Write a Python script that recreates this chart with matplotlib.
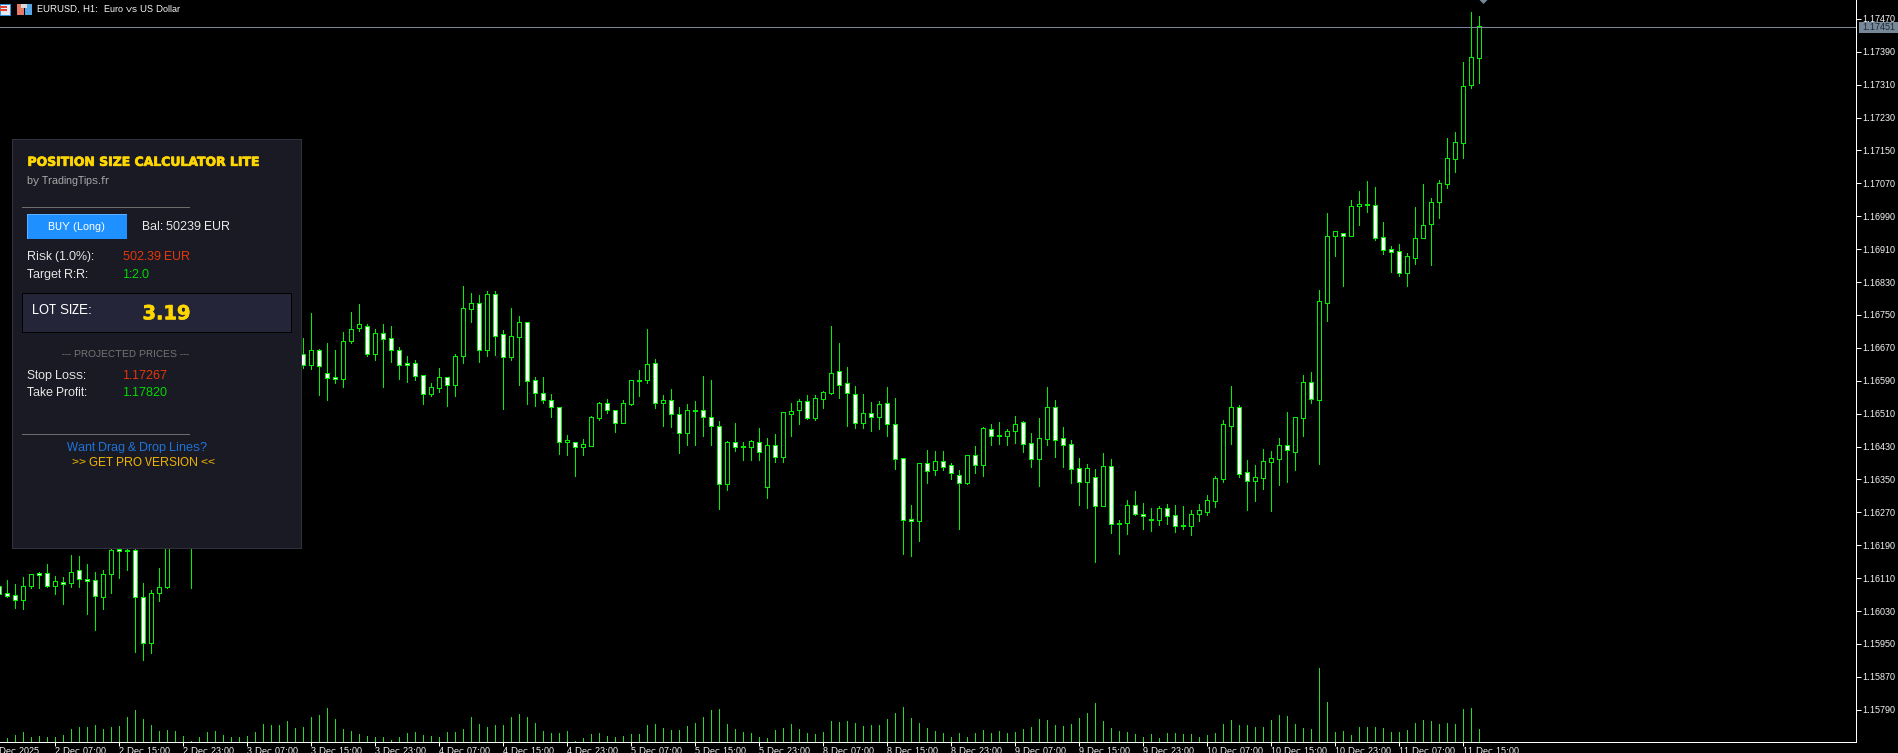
#!/usr/bin/env python3
"""EURUSD H1 terminal chart with the position size calculator panel on top."""

import matplotlib
matplotlib.use("Agg")
import matplotlib.pyplot as plt
import matplotlib.patheffects as pe
from matplotlib.patches import Polygon, Rectangle
import numpy as np

plt.rcParams["font.family"] = ["Liberation Sans", "DejaVu Sans"]
plt.rcParams["text.hinting"] = "no_autohint"
plt.rcParams["text.hinting_factor"] = 1

nan = float("nan")

# OHLC in points (1e-5), one bar per hour. nan = bar fully hidden behind the panel.
OPENS = [
    116092, 116073, 116068, 116058, 116092, 116122, 116122, 116092, 116100, 116097,
    116129, 116107, 116105, 116065, 116119, 116180, 116178, 116178, 116063, 115953,
    116073, 116088, nan, nan, 116300, nan, nan, nan, nan, nan,
    nan, nan, nan, nan, nan, nan, nan, nan, 116656, 116629,
    116664, 116610, 116598, 116595, 116687, 116719, 116722, 116656, 116705, 116693,
    116666, 116632, 116632, 116603, 116558, 116573, 116598, 116580, 116651, 116765,
    116778, 116666, 116802, 116703, 116648, 116697, 116734, 116591, 116561, 116544,
    116525, 116442, 116440, 116429, 116432, 116500, 116535, 116520, 116488, 116534,
    116593, 116592, 116632, 116536, 116544, 116510, 116464, 116517, 116518, 116503,
    116481, 116340, 116440, 116431, 116430, 116440, 116332, 116433, 116405, 116510,
    116520, 116540, 116500, 116546, 116561, 116613, 116584, 116559, 116488, 116511,
    116503, 116535, 116486, 116401, 116253, 116250, 116391, 116374, 116394, 116384,
    116362, 116342, 116409, 116386, 116472, 116457, 116456, 116469, 116489, 116438,
    116400, 116449, 116525, 116450, 116435, 116377, 116344, 116355, 116286, 116382,
    116243, 116245, 116287, 116267, 116255, 116252, 116280, 116263, 116239, 116237,
    116267, 116271, 116298, 116352, 116481, 116525, 116367, 116345, 116354, 116393,
    116400, 116433, 116417, 116500, 116586, 116544, 116780, 116941, 116949, 116941,
    117014, 117019, 117017, 116939, 116910, 116905, 116853, 116889, 116936, 116972,
    117024, 117069, 117130, 117169, 117310, 117376,
]
HIGHS = [
    116100, 116105, 116095, 116113, 116119, 116126, 116144, 116115, 116113, 116166,
    116164, 116144, 116125, 116129, 116190, 116190, 116190, 116195, 116097, 116080,
    116135, 116330, nan, nan, 116360, nan, nan, nan, nan, nan,
    nan, nan, nan, nan, nan, nan, nan, nan, 116693, 116754,
    116668, 116681, 116664, 116708, 116757, 116776, 116729, 116715, 116729, 116723,
    116673, 116650, 116640, 116603, 116584, 116621, 116598, 116655, 116820, 116803,
    116798, 116808, 116808, 116713, 116767, 116747, 116734, 116599, 116599, 116557,
    116526, 116458, 116441, 116448, 116504, 116538, 116545, 116520, 116543, 116593,
    116616, 116717, 116643, 116555, 116570, 116526, 116533, 116540, 116601, 116592,
    116491, 116443, 116487, 116441, 116447, 116475, 116451, 116460, 116513, 116536,
    116546, 116555, 116555, 116565, 116723, 116682, 116623, 116577, 116558, 116538,
    116540, 116574, 116548, 116401, 116288, 116391, 116421, 116419, 116419, 116390,
    116373, 116409, 116431, 116477, 116485, 116490, 116473, 116504, 116492, 116463,
    116499, 116574, 116543, 116477, 116446, 116402, 116387, 116375, 116414, 116400,
    116251, 116300, 116322, 116293, 116280, 116285, 116290, 116288, 116285, 116276,
    116290, 116312, 116358, 116494, 116577, 116531, 116397, 116385, 116424, 116419,
    116450, 116514, 116501, 116604, 116611, 116810, 116998, 116954, 116949, 117029,
    117051, 117076, 117061, 116977, 116917, 116923, 116900, 117013, 117068, 117034,
    117078, 117180, 117195, 117365, 117487, 117477,
]
LOWS = [
    116065, 116064, 116037, 116035, 116086, 116086, 116088, 116071, 116047, 116088,
    116088, 116023, 115984, 116035, 116074, 116110, 116130, 115930, 115911, 115928,
    116054, 116086, nan, nan, 116086, nan, nan, nan, nan, nan,
    nan, nan, nan, nan, nan, nan, nan, nan, 116621, 116618,
    116555, 116543, 116584, 116574, 116681, 116711, 116650, 116640, 116574, 116635,
    116594, 116587, 116591, 116533, 116553, 116562, 116528, 116553, 116633, 116733,
    116635, 116650, 116652, 116521, 116640, 116579, 116533, 116528, 116536, 116501,
    116411, 116409, 116358, 116409, 116432, 116494, 116511, 116465, 116488, 116531,
    116553, 116584, 116523, 116480, 116477, 116414, 116434, 116434, 116456, 116434,
    116278, 116324, 116419, 116397, 116397, 116397, 116305, 116392, 116392, 116456,
    116485, 116497, 116494, 116524, 116558, 116548, 116480, 116475, 116475, 116468,
    116473, 116456, 116375, 116169, 116164, 116200, 116341, 116361, 116373, 116351,
    116229, 116339, 116366, 116358, 116434, 116436, 116434, 116439, 116417, 116380,
    116334, 116434, 116404, 116380, 116341, 116288, 116280, 116149, 116286, 116220,
    116168, 116217, 116263, 116229, 116224, 116239, 116241, 116222, 116229, 116215,
    116249, 116263, 116283, 116344, 116436, 116356, 116276, 116297, 116327, 116273,
    116336, 116344, 116373, 116455, 116536, 116388, 116736, 116894, 116821, 116941,
    116969, 117001, 116933, 116899, 116855, 116845, 116820, 116874, 116936, 116871,
    116986, 117059, 117098, 117132, 117302, 117314,
]
CLOSES = [
    116072, 116067, 116058, 116092, 116119, 116118, 116092, 116102, 116096, 116126,
    116107, 116104, 116066, 116119, 116178, 116177, 116177, 116063, 115953, 116073,
    116088, 116308, nan, nan, 116340, nan, nan, nan, nan, nan,
    nan, nan, nan, nan, nan, nan, nan, nan, 116629, 116664,
    116626, 116597, 116595, 116686, 116717, 116727, 116656, 116707, 116692, 116665,
    116629, 116629, 116602, 116558, 116574, 116598, 116580, 116651, 116766, 116778,
    116666, 116802, 116700, 116648, 116700, 116734, 116590, 116561, 116544, 116527,
    116442, 116447, 116429, 116435, 116501, 116535, 116519, 116488, 116535, 116591,
    116590, 116630, 116536, 116544, 116510, 116463, 116518, 116519, 116503, 116481,
    116340, 116440, 116430, 116430, 116443, 116417, 116433, 116405, 116513, 116516,
    116540, 116500, 116547, 116562, 116610, 116580, 116561, 116488, 116511, 116503,
    116533, 116486, 116400, 116252, 116250, 116391, 116371, 116394, 116381, 116366,
    116342, 116409, 116386, 116474, 116456, 116456, 116469, 116486, 116437, 116400,
    116450, 116525, 116447, 116434, 116376, 116344, 116377, 116286, 116382, 116242,
    116241, 116287, 116267, 116262, 116252, 116280, 116262, 116237, 116237, 116267,
    116275, 116299, 116353, 116486, 116525, 116364, 116347, 116355, 116394, 116401,
    116433, 116421, 116501, 116586, 116546, 116784, 116942, 116954, 116941, 117015,
    117019, 117017, 116938, 116909, 116904, 116853, 116893, 116936, 116970, 117024,
    117070, 117131, 117170, 117308, 117377, 117452,
]
# tick volume, first bar is off the left edge
VOLUMES = [
    nan,
    130, 220, 310, 160, 190, 160, 160, 220, 400, 460,
    460, 520, 400, 460, 490, 760, 970, 700, 520, 340,
    370, 340, 190, 30, 160, 310, 340, 220, 160, 160,
    190, 310, 550, 520, 520, 640, 430, 460, 760, 820,
    1030, 700, 400, 340, 250, 190, 160, 160, 60, 160,
    280, 310, 220, 190, 160, 310, 310, 400, 760, 550,
    460, 520, 520, 760, 850, 760, 580, 340, 280, 280,
    340, 30, 130, 250, 280, 190, 160, 190, 250, 250,
    520, 550, 430, 370, 370, 490, 580, 760, 970, 1000,
    550, 400, 310, 280, 160, 130, 370, 430, 550, 400,
    280, 250, 310, 640, 610, 640, 580, 490, 520, 520,
    700, 880, 1060, 730, 580, 430, 340, 280, 160, 280,
    160, 280, 370, 280, 340, 280, 310, 400, 460, 700,
    670, 520, 490, 550, 730, 880, 1180, 640, 430, 340,
    310, 250, 160, 250, 130, 280, 280, 250, 250, 160,
    220, 280, 550, 670, 520, 520, 460, 460, 670, 820,
    790, 550, 430, 400, 2230, 1210, 310, 340, 220, 460,
    460, 460, 430, 310, 310, 370, 580, 670, 640, 550,
    580, 550, 1000, 1030, 400,
]

PRICE_TICKS = [1.17470 - 0.0008 * k for k in range(22)]
CURRENT_PRICE = 1.17451
DATE_LABELS = [
    "2 Dec 07:00", "2 Dec 15:00", "2 Dec 23:00", "3 Dec 07:00", "3 Dec 15:00", "3 Dec 23:00",
    "4 Dec 07:00", "4 Dec 15:00", "4 Dec 23:00", "5 Dec 07:00", "5 Dec 15:00", "5 Dec 23:00",
    "8 Dec 07:00", "8 Dec 15:00", "8 Dec 23:00", "9 Dec 07:00", "9 Dec 15:00", "9 Dec 23:00",
    "10 Dec 07:00", "10 Dec 15:00", "10 Dec 23:00", "11 Dec 07:00", "11 Dec 15:00",
]
FIRST_DATE_BAR = 7   # bar holding "2 Dec 07:00"
DATE_STEP = 8

W, H = 1899, 753
AXIS_RIGHT = 1856.0
AXIS_BOTTOM = 742.0
BAR_PX = 8.0
SCALE_SIZE = 6.4

GREEN = "#00f000"
VOL_GREEN = "#28d828"
SLATE = "#778899"
GOLD = "#ffd700"
RED = "#e8380a"
LIME = "#00e000"

opens = np.array(OPENS, dtype=float) / 1e5
highs = np.array(HIGHS, dtype=float) / 1e5
lows = np.array(LOWS, dtype=float) / 1e5
closes = np.array(CLOSES, dtype=float) / 1e5
volumes = np.array(VOLUMES, dtype=float)
bars = np.arange(len(opens))
assert len({len(OPENS), len(HIGHS), len(LOWS), len(CLOSES), len(VOLUMES)}) == 1

fig = plt.figure(figsize=(W / 100, H / 100), dpi=100, facecolor="black")
pos = [0, 1 - AXIS_BOTTOM / H, AXIS_RIGHT / W, AXIS_BOTTOM / H]
ax = fig.add_axes(pos, facecolor="black")

# bar n lands on pixel column 8n-1 (agg snaps it to the centre of that column),
# price scale is 32.9 px per 0.0008
ax.set_xlim(1 / BAR_PX, (AXIS_RIGHT + 1) / BAR_PX)
ax.set_ylim(1.17516 - AXIS_BOTTOM * 2.432e-5, 1.17516)

ok = ~np.isnan(opens)
up = ok & (closes >= opens)
down = ok & (closes < opens)
ax.vlines(bars[ok], lows[ok], highs[ok], color=GREEN, lw=0.72, antialiased=False, zorder=2)
ax.bar(bars[up], (closes - opens)[up], bottom=opens[up], width=0.5, facecolor="black",
       edgecolor=GREEN, linewidth=0.72, antialiased=False, zorder=3)
ax.bar(bars[down], (opens - closes)[down], bottom=closes[down], width=0.5, facecolor="white",
       edgecolor=GREEN, linewidth=0.72, antialiased=False, zorder=3)
ax.axhline(CURRENT_PRICE, color=SLATE, lw=0.72, antialiased=False, zorder=4)

for side in ("top", "left"):
    ax.spines[side].set_visible(False)
for side in ("right", "bottom"):
    ax.spines[side].set_color("white")
    ax.spines[side].set_linewidth(0.72)
ax.yaxis.tick_right()
ax.set_yticks(PRICE_TICKS)
ax.set_yticklabels([f"{p:.5f}" for p in PRICE_TICKS])
ax.set_xticks([FIRST_DATE_BAR + DATE_STEP * k for k in range(len(DATE_LABELS))])
ax.set_xticklabels(DATE_LABELS, ha="left")
ax.tick_params(axis="y", colors="white", labelsize=SCALE_SIZE, length=3.6, width=0.72, pad=1)
ax.tick_params(axis="x", colors="white", labelsize=SCALE_SIZE, length=3.2, width=0.72, pad=0.6)

# volume histogram along the bottom of the same window
ax_vol = fig.add_axes(pos, sharex=ax, facecolor="none")
ax_vol.set_ylim(0, AXIS_BOTTOM * 30)
ax_vol.vlines(bars[1:], 0, volumes[1:], color=VOL_GREEN, lw=0.72, antialiased=False)
ax_vol.axis("off")

# everything drawn on the chart window itself, in screen pixels
ov = fig.add_axes([0, 0, 1, 1], facecolor="none")
ov.set_xlim(0, W)
ov.set_ylim(H, 0)
ov.axis("off")


def box(x0, y0, x1, y1, **kw):
    kw.setdefault("linewidth", 0)
    ov.add_patch(Rectangle((x0, y0), x1 - x0, y1 - y0, antialiased=False, **kw))


def label(x, y, s, color="white", size=8.8, **kw):
    kw.setdefault("va", "center")
    return ov.text(x, y, s, color=color, fontsize=size, **kw)


# window caption + toolbar icons
label(37.3, 9.8, "EURUSD, H1:  Euro vs US Dollar", size=6.4)
box(0, 4, 10.5, 14.5, facecolor="#e8e8f4", edgecolor="#2f8fd8", linewidth=0.72)
box(0, 6, 7, 7.5, facecolor="#e04030")
box(0, 9, 7, 10.5, facecolor="#e04030")
box(17.5, 4, 24, 14.5, facecolor="#e87868")
box(25, 4, 32, 14.5, facecolor="#58a8e8")
box(21.5, 4, 27.5, 8, facecolor="#d8d8d8")

# current price tag and the marker above the last bar
box(1859, 21.5, 1898, 32.5, facecolor=SLATE)
label(1862, 27, "1.17451", color="#1c2630", size=SCALE_SIZE)
ov.add_patch(Polygon([(1479.5, 0), (1487.5, 0), (1483.5, 4)], closed=True, facecolor=SLATE, linewidth=0))

# first date label runs off the left edge, as it does in the terminal
label(-9, 747.4, "1 Dec 2025", size=SCALE_SIZE, va="top")

# calculator panel
box(12.3, 139.3, 301.5, 548, facecolor="#1a1a24", edgecolor="#32323f", linewidth=0.72, zorder=5)
Z = {"zorder": 6}
heavy = [pe.withStroke(linewidth=0.5, foreground=GOLD)]
label(27.5, 162.3, "POSITION SIZE CALCULATOR LITE", color=GOLD, size=8.95, family="DejaVu Sans",
      fontweight="bold", **Z).set_path_effects(heavy)
label(27, 181, "by TradingTips.fr", color="#a8a8a8", size=7.9, **Z)
ov.hlines([207, 433.5], 22, 190, color="#6e6e6e", lw=0.72, linestyles=(0, (3, 1)), antialiased=False, zorder=6)

box(27, 214, 127, 239, facecolor="#1e90ff", zorder=6)
box(27, 214, 127, 215, facecolor="#5ab0ff", zorder=7)
box(27, 214, 28.5, 239, facecolor="#5ab0ff", zorder=7)
label(77, 226.7, "BUY (Long)", size=7.6, ha="center", **Z).set_zorder(8)
label(142, 226.7, "Bal: 50239 EUR", color="#ececec", **Z)

label(27, 256.7, "Risk (1.0%):", color="#ececec", **Z)
label(122.7, 256.7, "502.39 EUR", color=RED, **Z)
label(27, 274.7, "Target R:R:", color="#ececec", **Z)
label(122.7, 274.7, "1:2.0", color=LIME, **Z)

box(22.5, 292.5, 291.5, 331.5, facecolor="#25253a", edgecolor="black", linewidth=0.72, zorder=6)
label(32, 310.3, "LOT SIZE:", size=9.1, zorder=7)
label(142.5, 314.3, "3.19", color=GOLD, size=14, family="DejaVu Sans", fontweight="bold",
      zorder=7).set_path_effects(heavy)

label(62, 354.3, "--- PROJECTED PRICES ---", color="#747474", size=7.3, **Z)
label(27, 375, "Stop Loss:", color="#ececec", **Z)
label(122.7, 375, "1.17267", color=RED, **Z)
label(27, 392.7, "Take Profit:", color="#ececec", **Z)
label(122.7, 392.7, "1.17820", color=LIME, **Z)

label(66.7, 447.7, "Want Drag & Drop Lines?", color="#1e78e0", **Z)
label(72, 462.7, ">> GET PRO VERSION <<", color="#f0b400", **Z)

fig.savefig("out.png", dpi=100, facecolor="black")
